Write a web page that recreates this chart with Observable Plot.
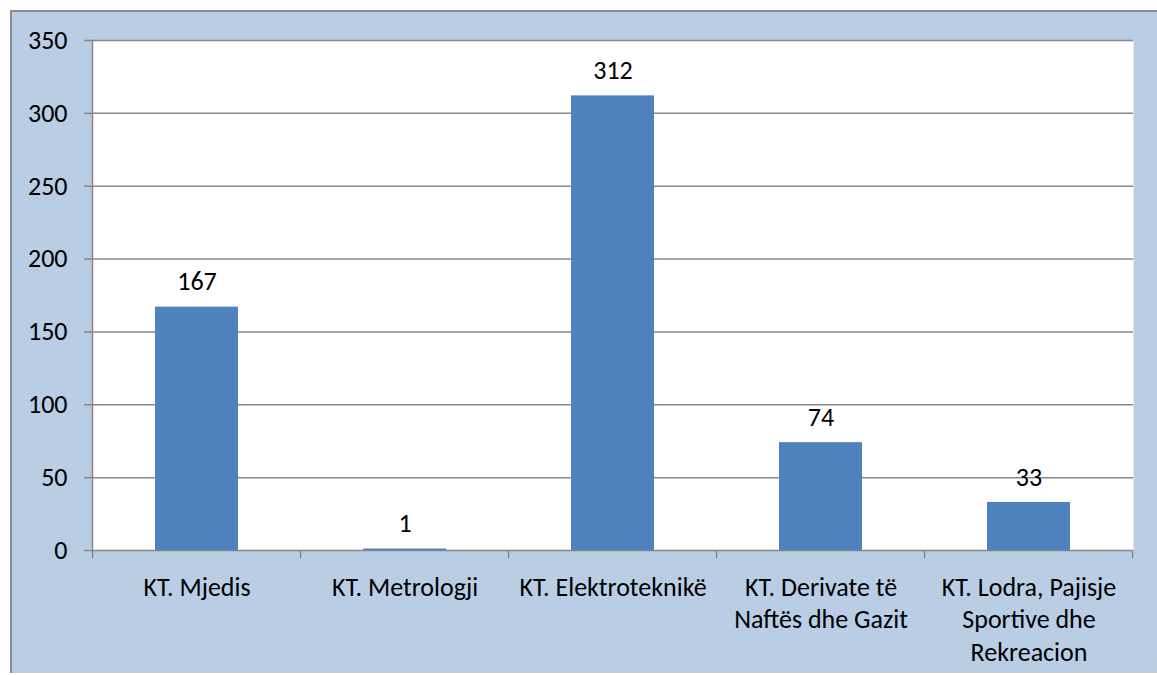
<!DOCTYPE html>
<html>
<head>
<meta charset="utf-8">
<script src="https://cdn.jsdelivr.net/npm/d3@7"></script>
<script src="https://cdn.jsdelivr.net/npm/@observablehq/plot@0.6"></script>
<style>
  html, body { margin: 0; padding: 0; background: #ffffff; width: 1157px; height: 675px; overflow: hidden; }
  #bg { position: absolute; left: 10px; top: 10px; width: 1160px; height: 661px;
        background: #b9cde5; border-left: 2px solid #8c8c8c; border-top: 2px solid #8c8c8c; }
  #chart { position: absolute; left: 0; top: 0; }
  #chart svg { background: transparent !important; }
</style>
</head>
<body>
<div id="bg"></div>
<div id="chart"></div>
<script>
const categories = [
  "KT. Mjedis",
  "KT. Metrologji",
  "KT. Elektroteknikë",
  "KT. Derivate të\nNaftës dhe Gazit",
  "KT. Lodra, Pajisje\nSportive dhe\nRekreacion"
];
const values = [167, 1, 312, 74, 33];
const yTicks = [0, 50, 100, 150, 200, 250, 300, 350];

const data = categories.map((c, i) => ({category: c, value: values[i]}));
const gray = "#878787";
const font = "Carlito, Calibri, Lato, sans-serif";

const boundaryTicks = (index, scales, values, dimensions) => {
  const x = scales.x, bw = x.bandwidth(), step = x.step();
  const y0 = scales.y(0);
  const g = d3.create("svg:g");
  const xs = categories.map(c => x(c) - (step - bw) / 2);
  xs.push(x(categories[categories.length - 1]) + bw + (step - bw) / 2);
  for (const px of xs) {
    g.append("line").attr("x1", px).attr("x2", px).attr("y1", y0).attr("y2", y0 + 8)
      .attr("stroke", gray).attr("stroke-width", 1.5);
  }
  return g.node();
};

const chart = Plot.plot({
  width: 1157,
  height: 675,
  marginLeft: 92,
  marginRight: 24,
  marginTop: 40,
  marginBottom: 125,
  style: {fontFamily: font, fontSize: "26px", color: "#000", background: "transparent"},
  x: {domain: categories, paddingInner: 0.6, paddingOuter: 0.3, align: 0.5, label: null},
  y: {domain: [0, 350], label: null},
  marks: [
    Plot.frame({fill: "white", stroke: null}),
    Plot.ruleY(yTicks, {stroke: gray, strokeWidth: 1.5}),
    Plot.barY(data, {x: "category", y: "value", fill: "#4f81bd"}),
    Plot.frame({anchor: "left", stroke: gray, strokeWidth: 1.5}),
    Plot.axisY({ticks: yTicks, tickSize: 8, tickPadding: 0, stroke: gray, strokeWidth: 1.5, tickFormat: () => ""}),
    Plot.axisY({ticks: yTicks, tickSize: 0, tickPadding: 25, fill: "#000", fontSize: 26, fontFamily: font}),
    Plot.axisX({tickSize: 0, tickPadding: 22, fill: "#000", fontSize: 26, fontFamily: font, lineHeight: 1.25}),
    boundaryTicks,
    Plot.text(data, {x: "category", y: "value", text: d => String(d.value), dy: -25, fill: "#000", fontSize: 26, fontFamily: font})
  ]
});
document.getElementById("chart").appendChild(chart);
</script>
</body>
</html>
